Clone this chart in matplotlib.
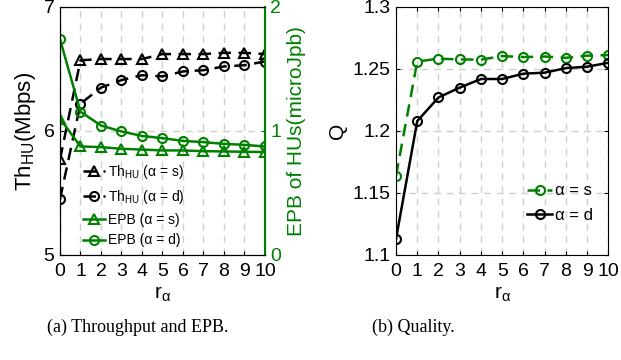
import matplotlib
matplotlib.use("Agg")
import matplotlib.pyplot as plt
import numpy as np

plt.rcParams['font.family'] = ['Liberation Sans', 'DejaVu Sans']
plt.rcParams['mathtext.fontset'] = 'custom'
plt.rcParams['mathtext.rm'] = 'Liberation Sans'
plt.rcParams['mathtext.it'] = 'Liberation Sans'

# data
r = np.arange(0, 11)
th_s = [5.77, 6.57, 6.58, 6.58, 6.58, 6.62, 6.62, 6.62, 6.63, 6.63, 6.62]
th_d = [5.45, 6.22, 6.35, 6.41, 6.45, 6.44, 6.48, 6.49, 6.52, 6.53, 6.56]
epb_s = [1.10, 0.875, 0.87, 0.856, 0.85, 0.843, 0.843, 0.837, 0.835, 0.832, 0.83]
epb_d = [1.74, 1.155, 1.044, 0.996, 0.96, 0.942, 0.92, 0.91, 0.896, 0.888, 0.875]
q_s = [1.164, 1.256, 1.2583, 1.2577, 1.2575, 1.2604, 1.2596, 1.26, 1.259, 1.2607, 1.2612]
q_d = [1.113, 1.208, 1.227, 1.235, 1.2419, 1.2419, 1.2462, 1.247, 1.2507, 1.2518, 1.255]

green = (0, 0.5, 0)
fs = 14

fig = plt.figure(figsize=(6.21, 3.6), dpi=100)

# (a) throughput and EPB
ax1 = fig.add_axes([0.0966, 0.2917, 0.330, 0.689])
ax2 = ax1.twinx()
l1, = ax1.plot(r, th_s, '--', color='k', marker='^', mfc='none', ms=7, mew=1.5, lw=1.8, dashes=(5, 3))
l2, = ax1.plot(r, th_d, '--', color='k', marker='o', mfc='none', ms=6.5, mew=1.5, lw=1.8, dashes=(5, 3))
l3, = ax2.plot(r, epb_s, '-', color=green, marker='^', mfc='none', ms=7, mew=1.5, lw=1.8)
l4, = ax2.plot(r, epb_d, '-', color=green, marker='o', mfc='none', ms=6.5, mew=1.5, lw=1.8)
ax1.set_xlim(0, 10)
ax1.set_ylim(5, 7)
ax2.set_ylim(0, 2)
ax1.set_xticks(r)
ax1.set_yticks([5, 6, 7])
ax2.set_yticks([0, 1, 2])
ax1.grid(True, ls=(0, (5, 4)), color='#d0d0d0', lw=1)
ax1.tick_params(axis='x', labelsize=fs, direction='in', length=3, pad=6)
ax1.tick_params(axis='y', labelsize=fs, direction='in', length=3, pad=4)
ax2.tick_params(labelsize=fs, direction='in', length=3, colors=green, pad=4)
ax2.spines['right'].set_color(green)
ax2.spines['right'].set_linewidth(1.5)
ax1.set_ylabel('Th$_{\\mathrm{HU}}$(Mbps)', fontsize=16, labelpad=4)
ax2.set_ylabel('EPB of HUs(microJpb)', fontsize=15, color=green, labelpad=4)
ax1.set_xlabel('r$_{\\mathrm{α}}$', fontsize=15, labelpad=3)
ax1.legend([l1, l2, l3, l4],
           ['Th$_{\\mathrm{HU}}$ (α = s)', 'Th$_{\\mathrm{HU}}$ (α = d)', 'EPB (α = s)', 'EPB (α = d)'],
           loc='lower left', bbox_to_anchor=(0.05, -0.02), frameon=False, fontsize=10,
           handlelength=1.6, handletextpad=0.2, labelspacing=0.5)

# (b) quality
ax3 = fig.add_axes([0.6377, 0.2917, 0.342, 0.689])
m1, = ax3.plot(r, q_s, '--', color=green, marker='o', mfc='none', ms=6.5, mew=1.5, lw=1.8, dashes=(5, 3))
m2, = ax3.plot(r, q_d, '-', color='k', marker='o', mfc='none', ms=6.5, mew=1.5, lw=1.8)
ax3.set_xlim(0, 10)
ax3.set_ylim(1.1, 1.3)
ax3.set_xticks(r)
ax3.set_yticks([1.1, 1.15, 1.2, 1.25, 1.3])
ax3.set_yticklabels(['1.1', '1.15', '1.2', '1.25', '1.3'])
ax3.grid(True, ls=(0, (5, 4)), color='#d0d0d0', lw=1)
ax3.tick_params(axis='x', labelsize=fs, direction='in', length=3, pad=6, top=True)
ax3.tick_params(axis='y', labelsize=fs, direction='in', length=3, pad=4, right=True)
ax3.set_ylabel('Q', fontsize=15, labelpad=4)
ax3.set_xlabel('r$_{\\mathrm{α}}$', fontsize=15, labelpad=3)
ax3.legend([m1, m2], ['α = s', 'α = d'], loc='lower right', bbox_to_anchor=(1.0, 0.07),
           frameon=False, fontsize=12, handlelength=1.5, handletextpad=0.2, labelspacing=0.55)

fig.text(0.221, 0.09, '(a) Throughput and EPB.', ha='center', va='center',
         fontsize=13, family='Liberation Serif')
fig.text(0.666, 0.09, '(b) Quality.', ha='center', va='center',
         fontsize=13, family='Liberation Serif')

fig.savefig('out.png', dpi=100)
